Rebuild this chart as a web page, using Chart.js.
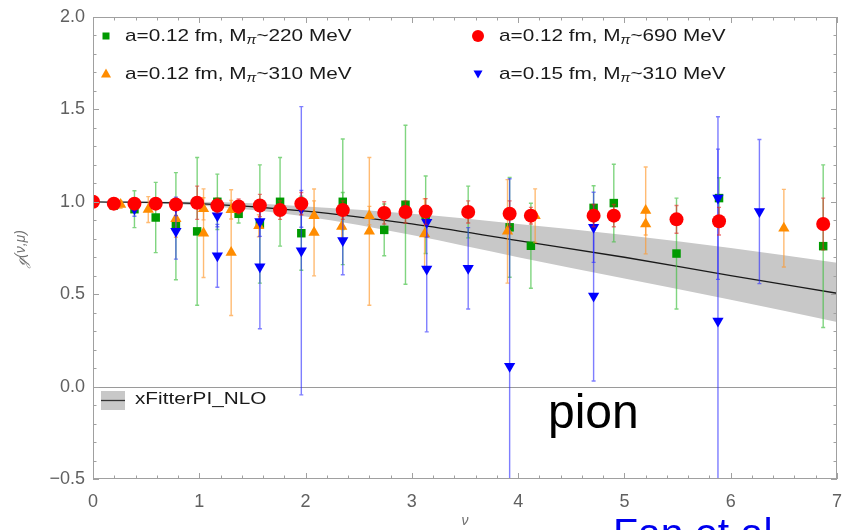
<!DOCTYPE html>
<html>
<head>
<meta charset="utf-8">
<script src="https://cdn.jsdelivr.net/npm/chart.js@4.4.0/dist/chart.umd.min.js"></script>
<style>
  html, body { margin: 0; padding: 0; background: #fff; }
  #wrap { width: 844px; height: 530px; position: relative; }
</style>
</head>
<body>
<div id="wrap"><canvas id="gChart"></canvas></div>
<script>
// xFitterPI_NLO band
const bandNu    = [0, 1, 2, 3, 4, 5, 6, 7];
const bandMid   = [1.0, 0.99, 0.95, 0.88, 0.79, 0.70, 0.60, 0.505];
const bandUpper = [1.0, 1.0, 0.975, 0.935, 0.88, 0.82, 0.75, 0.67];
const bandLower = [1.0, 0.98, 0.92, 0.82, 0.70, 0.585, 0.47, 0.35];

// a=0.12 fm, M_pi~220 MeV (green squares)
const greenNu  = [0, 0.196, 0.39, 0.59, 0.78, 0.98, 1.17, 1.37, 1.57, 1.76, 1.96, 2.35, 2.35, 2.74, 2.94, 3.13, 3.53, 3.92, 4.12, 4.71, 4.90, 5.49, 5.89, 6.87];
const greenG   = [1.0, 0.98, 0.96, 0.915, 0.868, 0.84, 1.0, 0.935, 0.88, 1.0, 0.83, 1.0, 0.95, 0.848, 0.984, 0.93, 0.945, 0.862, 0.762, 0.967, 0.993, 0.72, 1.02, 0.76];
const greenErr = [0, 0.02, 0.1, 0.19, 0.29, 0.4, 0.15, 0.05, 0.32, 0.24, 0.2, 0.34, 0.1, 0.14, 0.43, 0.21, 0.14, 0.27, 0.23, 0.12, 0.21, 0.30, 0.11, 0.44];

// a=0.12 fm, M_pi~690 MeV (red circles)
const redNu  = [0, 0.196, 0.39, 0.59, 0.78, 0.98, 1.17, 1.37, 1.57, 1.76, 1.96, 2.35, 2.74, 2.94, 3.13, 3.53, 3.92, 4.12, 4.71, 4.90, 5.49, 5.89, 6.87];
const redG   = [1.0, 0.99, 0.99, 0.99, 0.985, 0.995, 0.98, 0.975, 0.98, 0.955, 0.99, 0.955, 0.94, 0.945, 0.947, 0.945, 0.935, 0.925, 0.925, 0.925, 0.905, 0.895, 0.88];
const redErr = [0, 0.02, 0.02, 0.02, 0.03, 0.09, 0.04, 0.04, 0.06, 0.05, 0.06, 0.05, 0.06, 0.06, 0.07, 0.06, 0.07, 0.045, 0.06, 0.06, 0.075, 0.075, 0.14];

// a=0.12 fm, M_pi~310 MeV (orange triangles)
const orangeNu  = [0, 0.26, 0.52, 0.78, 1.04, 1.04, 1.30, 1.30, 1.56, 2.08, 2.08, 2.34, 2.60, 2.60, 3.12, 3.90, 4.16, 5.20, 5.20, 6.50];
const orangeG   = [1.0, 0.985, 0.958, 0.908, 0.962, 0.83, 0.957, 0.725, 0.87, 0.925, 0.834, 0.867, 0.925, 0.84, 0.826, 0.84, 0.925, 0.953, 0.88, 0.857];
const orangeErr = [0, 0.02, 0.07, 0.1, 0.06, 0.24, 0.05, 0.34, 0.06, 0.08, 0.235, 0.08, 0.05, 0.4, 0.19, 0.28, 0.145, 0.235, 0.06, 0.21];

// a=0.15 fm, M_pi~310 MeV (blue down-triangles)
const blueNu  = [0, 0.39, 0.78, 0.78, 1.17, 1.17, 1.57, 1.57, 1.96, 1.96, 2.35, 3.14, 3.14, 3.53, 3.92, 4.71, 4.71, 5.88, 5.88, 6.27];
const blueG   = [1.0, 0.962, 0.975, 0.84, 0.925, 0.708, 0.893, 0.648, 0.962, 0.735, 0.79, 0.889, 0.636, 0.64, 0.11, 0.862, 0.49, 1.02, 0.355, 0.947];
const blueErr = [0, 0.04, 0.05, 0.15, 0.06, 0.17, 0.08, 0.335, 0.1, 0.78, 0.185, 0.08, 0.34, 0.22, 1.015, 0.19, 0.46, 0.44, 0.93, 0.39];

const xTicks = [0, 1, 2, 3, 4, 5, 6, 7];
const yTicks = [-0.5, 0.0, 0.5, 1.0, 1.5, 2.0];

const legendSpacing = ['0.12', '0.12', '0.12', '0.15'];
const legendMass    = ['220', '690', '310', '310'];

const FONT = "'Liberation Sans', Arial, sans-serif";
const STRETCH = 1.22; // legend text in the picture is wide

function pts(xs, ys, es) {
    return xs.map((x, i) => ({ x: x, y: ys[i], err: es ? es[i] : 0 }));
}

// error bars drawn just before each series' markers
const errorBars = {
    id: 'errorBars',
    beforeDatasetDraw(chart, args) {
        const ds = chart.data.datasets[args.index];
        if (!ds.errColor) return;
        const { ctx, chartArea: a, scales: { x, y } } = chart;
        ctx.save();
        ctx.beginPath();
        ctx.rect(a.left, a.top, a.right - a.left, a.bottom - a.top);
        ctx.clip();
        ctx.strokeStyle = ds.errColor;
        ctx.lineWidth = 1.4;
        ds.data.forEach(p => {
            if (!p.err) return;
            const px = x.getPixelForValue(p.x);
            const y1 = y.getPixelForValue(p.y + p.err);
            const y2 = y.getPixelForValue(p.y - p.err);
            ctx.beginPath();
            ctx.moveTo(px, y1); ctx.lineTo(px, y2);
            ctx.moveTo(px - 2, y1); ctx.lineTo(px + 2, y1);
            ctx.moveTo(px - 2, y2); ctx.lineTo(px + 2, y2);
            ctx.stroke();
        });
        ctx.restore();
    }
};

// zero line under everything
const zeroLine = {
    id: 'zeroLine',
    beforeDatasetsDraw(chart) {
        const { ctx, chartArea: a, scales: { y } } = chart;
        const py = Math.round(y.getPixelForValue(0)) + 0.5;
        ctx.save();
        ctx.strokeStyle = '#9a9a9a';
        ctx.lineWidth = 1;
        ctx.beginPath();
        ctx.moveTo(a.left, py); ctx.lineTo(a.right, py);
        ctx.stroke();
        ctx.restore();
    }
};

// Mathematica-like frame with inward ticks
const frame = {
    id: 'frame',
    afterDatasetsDraw(chart) {
        const { ctx, chartArea: a, scales: { x, y } } = chart;
        ctx.save();
        ctx.strokeStyle = '#a0a0a0';
        ctx.lineWidth = 1;
        ctx.strokeRect(a.left + 0.5, a.top + 0.5, a.right - a.left - 1, a.bottom - a.top - 1);
        ctx.beginPath();
        for (let i = 0; i <= 35; i++) {
            const v = i * 0.2;
            const len = (i % 5 === 0) ? 6 : 3.5;
            const px = Math.round(x.getPixelForValue(v)) + 0.5;
            ctx.moveTo(px, a.bottom); ctx.lineTo(px, a.bottom - len);
            ctx.moveTo(px, a.top); ctx.lineTo(px, a.top + len);
        }
        for (let i = 0; i <= 25; i++) {
            const v = -0.5 + i * 0.1;
            const len = (i % 5 === 0) ? 6 : 3.5;
            const py = Math.round(y.getPixelForValue(v)) + 0.5;
            ctx.moveTo(a.left, py); ctx.lineTo(a.left + len, py);
            ctx.moveTo(a.right, py); ctx.lineTo(a.right - len, py);
        }
        ctx.stroke();
        ctx.restore();
    }
};

function drawMarker(ctx, kind, cx, cy) {
    ctx.beginPath();
    if (kind === 0) {
        ctx.fillStyle = '#009a00';
        ctx.fillRect(cx - 3.5, cy - 3.5, 7, 7);
        return;
    }
    if (kind === 1) {
        ctx.fillStyle = '#ff0000';
        ctx.arc(cx, cy, 6, 0, Math.PI * 2);
    } else if (kind === 2) {
        ctx.fillStyle = '#ff8c00';
        ctx.moveTo(cx, cy - 5.5); ctx.lineTo(cx + 5, cy + 3.5); ctx.lineTo(cx - 5, cy + 3.5);
    } else {
        ctx.fillStyle = '#0000ff';
        ctx.moveTo(cx, cy + 4.5); ctx.lineTo(cx + 4.5, cy - 3.5); ctx.lineTo(cx - 4.5, cy - 3.5);
    }
    ctx.closePath();
    ctx.fill();
}

function wideText(ctx, text, x, y) {
    ctx.save();
    ctx.translate(x, y);
    ctx.scale(STRETCH, 1);
    ctx.fillText(text, 0, 0);
    const w = ctx.measureText(text).width * STRETCH;
    ctx.restore();
    return w;
}

// legends and text annotations
const annotations = {
    id: 'annotations',
    afterDraw(chart) {
        const { ctx } = chart;
        ctx.save();
        ctx.textBaseline = 'middle';
        ctx.textAlign = 'left';
        const pos = [[106, 125, 36], [478, 499, 36], [106, 125, 74], [478, 499, 74]];
        pos.forEach((p, i) => {
            drawMarker(ctx, i, p[0], p[2]);
            ctx.fillStyle = '#1a1a1a';
            ctx.font = '17px ' + FONT;
            let cx = p[1];
            cx += wideText(ctx, 'a=' + legendSpacing[i] + ' fm, M', cx, p[2]);
            ctx.font = 'italic 12px ' + FONT;
            cx += wideText(ctx, '\u03c0', cx, p[2] + 5);
            ctx.font = '17px ' + FONT;
            wideText(ctx, '~' + legendMass[i] + ' MeV', cx, p[2]);
        });

        // band legend
        ctx.fillStyle = '#c8c8c8';
        ctx.fillRect(101, 391, 24, 19);
        ctx.strokeStyle = '#333';
        ctx.lineWidth = 1.3;
        ctx.beginPath();
        ctx.moveTo(101, 400.5); ctx.lineTo(125, 400.5);
        ctx.stroke();
        ctx.fillStyle = '#1a1a1a';
        ctx.font = '17px ' + FONT;
        wideText(ctx, 'xFitterPI_NLO', 135, 399);

        ctx.textBaseline = 'alphabetic';
        ctx.fillStyle = '#000';
        ctx.font = '48px ' + FONT;
        ctx.fillText('pion', 548, 428);

        ctx.fillStyle = '#0000ee';
        ctx.font = '41px ' + FONT;
        ctx.fillText('Fan et al.', 613, 547);
        ctx.restore();
    }
};

const ctx = document.getElementById('gChart').getContext('2d');
const chart = new Chart(ctx, {
    type: 'scatter',
    data: {
        datasets: [
            {
                label: 'a=0.12 fm, M_pi~690 MeV',
                data: pts(redNu, redG, redErr),
                backgroundColor: '#ff0000', borderColor: '#ff0000',
                pointStyle: 'circle', pointRadius: 7, borderWidth: 0,
                errColor: 'rgba(230,30,30,0.6)'
            },
            {
                label: 'a=0.15 fm, M_pi~310 MeV',
                data: pts(blueNu, blueG, blueErr),
                backgroundColor: '#0000ff', borderColor: '#0000ff',
                pointStyle: 'triangle', rotation: 180, pointRadius: 6.5, borderWidth: 0,
                errColor: 'rgba(40,40,255,0.6)'
            },
            {
                label: 'a=0.12 fm, M_pi~310 MeV',
                data: pts(orangeNu, orangeG, orangeErr),
                backgroundColor: '#ff8c00', borderColor: '#ff8c00',
                pointStyle: 'triangle', pointRadius: 6.5, borderWidth: 0,
                errColor: 'rgba(255,150,40,0.65)'
            },
            {
                label: 'a=0.12 fm, M_pi~220 MeV',
                data: pts(greenNu, greenG, greenErr),
                backgroundColor: '#009a00', borderColor: '#009a00',
                pointStyle: 'rect', pointRadius: 6, borderWidth: 0,
                errColor: 'rgba(60,190,60,0.65)'
            },
            {
                label: 'xFitterPI_NLO',
                data: pts(bandNu, bandMid),
                showLine: true, borderColor: '#1a1a1a', borderWidth: 1.3,
                pointRadius: 0, cubicInterpolationMode: 'monotone'
            },
            {
                label: 'upper',
                data: pts(bandNu, bandUpper),
                showLine: true, borderWidth: 0, borderColor: 'rgba(0,0,0,0)',
                pointRadius: 0, cubicInterpolationMode: 'monotone',
                fill: '+1', backgroundColor: '#c8c8c8'
            },
            {
                label: 'lower',
                data: pts(bandNu, bandLower),
                showLine: true, borderWidth: 0, borderColor: 'rgba(0,0,0,0)',
                pointRadius: 0, cubicInterpolationMode: 'monotone'
            }
        ]
    },
    options: {
        responsive: true,
        maintainAspectRatio: false,
        animation: false,
        layout: { padding: { top: 17, right: 6, left: 0, bottom: 0 } },
        plugins: {
            legend: { display: false },
            tooltip: { enabled: false }
        },
        scales: {
            x: {
                type: 'linear', min: 0, max: 7,
                afterFit: s => { s.height = 51; s.paddingLeft = 0; s.paddingRight = 0; },
                afterBuildTicks: s => { s.ticks = xTicks.map(v => ({ value: v })); },
                grid: { display: false }, border: { display: false },
                ticks: { color: '#606060', padding: 4, font: { size: 18, family: FONT }, maxRotation: 0 },
                title: { display: true, text: '\u03bd', color: '#707070', padding: { top: 0, bottom: 0 },
                         font: { size: 14, style: 'italic', family: FONT } }
            },
            y: {
                min: -0.5, max: 2.0,
                afterFit: s => { s.width = 93; },
                afterBuildTicks: s => { s.ticks = yTicks.map(v => ({ value: v })); },
                grid: { display: false }, border: { display: false },
                ticks: {
                    color: '#606060', padding: 0, font: { size: 18, family: FONT },
                    callback: v => v.toFixed(1).replace('-', '\u2212')
                },
                title: { display: true, text: '\u210a(\u03bd,\u03bc)', color: '#707070', padding: { top: 13, bottom: 0 },
                         font: { size: 14, style: 'italic', family: FONT } }
            }
        }
    },
    plugins: [zeroLine, errorBars, frame, annotations]
});
</script>
</body>
</html>
